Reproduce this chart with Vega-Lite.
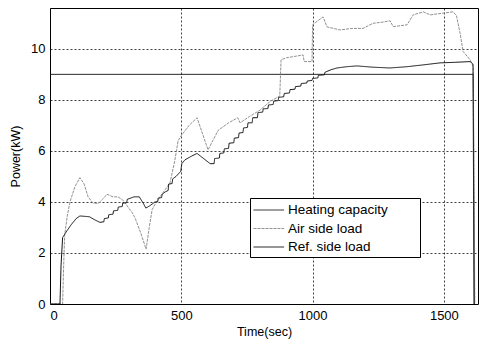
{
  "$schema": "https://vega.github.io/schema/vega-lite/v6.json",
  "width": 428,
  "height": 296,
  "autosize": {"type": "none"},
  "padding": {"left": 50, "top": 8, "right": 2, "bottom": 35},
  "config": {
    "font": "Liberation Sans",
    "view": {"stroke": "black", "strokeWidth": 1},
    "axis": {
      "gridColor": "black", "gridDash": [2, 2], "gridOpacity": 0.75, "gridWidth": 1,
      "ticks": false, "domain": false,
      "labelColor": "black", "labelFontSize": 13, "titleColor": "black",
      "titleFontSize": 12.5, "titleFontWeight": "normal"
    }
  },
  "data": {
    "values": [
      {"s": "Heating capacity", "t": 0, "p": 9.0},
      {"s": "Heating capacity", "t": 1612, "p": 9.0},
      {"s": "Heating capacity", "t": 1616, "p": 0},

      {"s": "Air side load", "t": 0, "p": 0},
      {"s": "Air side load", "t": 48, "p": 0},
      {"s": "Air side load", "t": 52, "p": 1.5},
      {"s": "Air side load", "t": 56, "p": 2.7},
      {"s": "Air side load", "t": 65, "p": 3.4},
      {"s": "Air side load", "t": 76, "p": 4.0},
      {"s": "Air side load", "t": 95, "p": 4.6},
      {"s": "Air side load", "t": 114, "p": 4.95},
      {"s": "Air side load", "t": 130, "p": 4.7},
      {"s": "Air side load", "t": 145, "p": 4.2},
      {"s": "Air side load", "t": 164, "p": 3.95},
      {"s": "Air side load", "t": 185, "p": 3.95},
      {"s": "Air side load", "t": 200, "p": 4.1},
      {"s": "Air side load", "t": 217, "p": 4.3},
      {"s": "Air side load", "t": 240, "p": 4.2},
      {"s": "Air side load", "t": 259, "p": 4.2},
      {"s": "Air side load", "t": 280, "p": 4.05},
      {"s": "Air side load", "t": 297, "p": 3.8},
      {"s": "Air side load", "t": 312, "p": 3.6},
      {"s": "Air side load", "t": 324, "p": 3.37},
      {"s": "Air side load", "t": 345, "p": 2.8},
      {"s": "Air side load", "t": 366, "p": 2.15},
      {"s": "Air side load", "t": 378, "p": 3.0},
      {"s": "Air side load", "t": 389, "p": 3.7},
      {"s": "Air side load", "t": 405, "p": 4.0},
      {"s": "Air side load", "t": 419, "p": 4.2},
      {"s": "Air side load", "t": 440, "p": 4.5},
      {"s": "Air side load", "t": 457, "p": 4.75},
      {"s": "Air side load", "t": 475, "p": 5.6},
      {"s": "Air side load", "t": 488, "p": 6.4},
      {"s": "Air side load", "t": 500, "p": 6.6},
      {"s": "Air side load", "t": 530, "p": 7.0},
      {"s": "Air side load", "t": 560, "p": 7.3},
      {"s": "Air side load", "t": 580, "p": 6.7},
      {"s": "Air side load", "t": 602, "p": 6.04},
      {"s": "Air side load", "t": 620, "p": 6.4},
      {"s": "Air side load", "t": 640, "p": 6.8},
      {"s": "Air side load", "t": 680, "p": 7.1},
      {"s": "Air side load", "t": 715, "p": 7.3},
      {"s": "Air side load", "t": 724, "p": 7.1},
      {"s": "Air side load", "t": 760, "p": 7.35},
      {"s": "Air side load", "t": 800, "p": 7.6},
      {"s": "Air side load", "t": 840, "p": 7.95},
      {"s": "Air side load", "t": 875, "p": 8.15},
      {"s": "Air side load", "t": 880, "p": 9.57},
      {"s": "Air side load", "t": 900, "p": 9.65},
      {"s": "Air side load", "t": 930, "p": 9.7},
      {"s": "Air side load", "t": 964, "p": 9.76},
      {"s": "Air side load", "t": 968, "p": 9.5},
      {"s": "Air side load", "t": 998, "p": 9.5},
      {"s": "Air side load", "t": 1000, "p": 10.94},
      {"s": "Air side load", "t": 1020, "p": 11.1},
      {"s": "Air side load", "t": 1040, "p": 11.25},
      {"s": "Air side load", "t": 1055, "p": 10.86},
      {"s": "Air side load", "t": 1080, "p": 10.8},
      {"s": "Air side load", "t": 1105, "p": 10.74},
      {"s": "Air side load", "t": 1150, "p": 10.8},
      {"s": "Air side load", "t": 1192, "p": 10.8},
      {"s": "Air side load", "t": 1230, "p": 11.0},
      {"s": "Air side load", "t": 1270, "p": 11.05},
      {"s": "Air side load", "t": 1295, "p": 11.1},
      {"s": "Air side load", "t": 1307, "p": 10.87},
      {"s": "Air side load", "t": 1360, "p": 10.94},
      {"s": "Air side load", "t": 1383, "p": 11.33},
      {"s": "Air side load", "t": 1421, "p": 11.45},
      {"s": "Air side load", "t": 1448, "p": 11.33},
      {"s": "Air side load", "t": 1497, "p": 11.4},
      {"s": "Air side load", "t": 1535, "p": 11.45},
      {"s": "Air side load", "t": 1548, "p": 11.3},
      {"s": "Air side load", "t": 1562, "p": 10.6},
      {"s": "Air side load", "t": 1573, "p": 9.9},
      {"s": "Air side load", "t": 1600, "p": 9.57},
      {"s": "Air side load", "t": 1612, "p": 9.3},
      {"s": "Air side load", "t": 1618, "p": 0},

      {"s": "Ref. side load", "t": 0, "p": 0},
      {"s": "Ref. side load", "t": 38, "p": 0},
      {"s": "Ref. side load", "t": 42, "p": 1.5},
      {"s": "Ref. side load", "t": 48, "p": 2.6},
      {"s": "Ref. side load", "t": 60, "p": 2.8},
      {"s": "Ref. side load", "t": 80, "p": 3.1},
      {"s": "Ref. side load", "t": 100, "p": 3.35},
      {"s": "Ref. side load", "t": 114, "p": 3.45},
      {"s": "Ref. side load", "t": 150, "p": 3.42},
      {"s": "Ref. side load", "t": 170, "p": 3.3},
      {"s": "Ref. side load", "t": 190, "p": 3.2},
      {"s": "Ref. side load", "t": 205, "p": 3.22},
      {"s": "Ref. side load", "t": 207, "p": 3.35},
      {"s": "Ref. side load", "t": 222, "p": 3.37},
      {"s": "Ref. side load", "t": 224, "p": 3.5},
      {"s": "Ref. side load", "t": 240, "p": 3.52},
      {"s": "Ref. side load", "t": 242, "p": 3.65},
      {"s": "Ref. side load", "t": 258, "p": 3.67},
      {"s": "Ref. side load", "t": 260, "p": 3.8},
      {"s": "Ref. side load", "t": 275, "p": 3.82},
      {"s": "Ref. side load", "t": 277, "p": 3.95},
      {"s": "Ref. side load", "t": 292, "p": 3.97},
      {"s": "Ref. side load", "t": 294, "p": 4.1},
      {"s": "Ref. side load", "t": 320, "p": 4.2},
      {"s": "Ref. side load", "t": 340, "p": 4.2},
      {"s": "Ref. side load", "t": 355, "p": 3.95},
      {"s": "Ref. side load", "t": 365, "p": 3.76},
      {"s": "Ref. side load", "t": 380, "p": 3.85},
      {"s": "Ref. side load", "t": 400, "p": 4.0},
      {"s": "Ref. side load", "t": 410, "p": 4.0},
      {"s": "Ref. side load", "t": 412, "p": 4.15},
      {"s": "Ref. side load", "t": 425, "p": 4.17},
      {"s": "Ref. side load", "t": 427, "p": 4.3},
      {"s": "Ref. side load", "t": 440, "p": 4.4},
      {"s": "Ref. side load", "t": 450, "p": 4.45},
      {"s": "Ref. side load", "t": 452, "p": 4.7},
      {"s": "Ref. side load", "t": 465, "p": 4.72},
      {"s": "Ref. side load", "t": 467, "p": 4.9},
      {"s": "Ref. side load", "t": 480, "p": 5.0},
      {"s": "Ref. side load", "t": 498, "p": 5.2},
      {"s": "Ref. side load", "t": 502, "p": 5.5},
      {"s": "Ref. side load", "t": 514, "p": 5.65},
      {"s": "Ref. side load", "t": 540, "p": 5.8},
      {"s": "Ref. side load", "t": 560, "p": 5.9},
      {"s": "Ref. side load", "t": 585, "p": 5.7},
      {"s": "Ref. side load", "t": 610, "p": 5.5},
      {"s": "Ref. side load", "t": 625, "p": 5.5},
      {"s": "Ref. side load", "t": 627, "p": 5.7},
      {"s": "Ref. side load", "t": 645, "p": 5.72},
      {"s": "Ref. side load", "t": 647, "p": 5.9},
      {"s": "Ref. side load", "t": 662, "p": 5.92},
      {"s": "Ref. side load", "t": 664, "p": 6.08},
      {"s": "Ref. side load", "t": 680, "p": 6.1},
      {"s": "Ref. side load", "t": 682, "p": 6.3},
      {"s": "Ref. side load", "t": 700, "p": 6.32},
      {"s": "Ref. side load", "t": 702, "p": 6.5},
      {"s": "Ref. side load", "t": 718, "p": 6.52},
      {"s": "Ref. side load", "t": 720, "p": 6.7},
      {"s": "Ref. side load", "t": 735, "p": 6.72},
      {"s": "Ref. side load", "t": 737, "p": 6.9},
      {"s": "Ref. side load", "t": 752, "p": 6.92},
      {"s": "Ref. side load", "t": 754, "p": 7.1},
      {"s": "Ref. side load", "t": 770, "p": 7.1},
      {"s": "Ref. side load", "t": 772, "p": 7.3},
      {"s": "Ref. side load", "t": 790, "p": 7.3},
      {"s": "Ref. side load", "t": 792, "p": 7.5},
      {"s": "Ref. side load", "t": 810, "p": 7.52},
      {"s": "Ref. side load", "t": 812, "p": 7.65},
      {"s": "Ref. side load", "t": 830, "p": 7.66},
      {"s": "Ref. side load", "t": 832, "p": 7.8},
      {"s": "Ref. side load", "t": 850, "p": 7.82},
      {"s": "Ref. side load", "t": 852, "p": 7.95},
      {"s": "Ref. side load", "t": 869, "p": 7.97},
      {"s": "Ref. side load", "t": 871, "p": 8.1},
      {"s": "Ref. side load", "t": 890, "p": 8.12},
      {"s": "Ref. side load", "t": 892, "p": 8.25},
      {"s": "Ref. side load", "t": 912, "p": 8.27},
      {"s": "Ref. side load", "t": 914, "p": 8.4},
      {"s": "Ref. side load", "t": 933, "p": 8.42},
      {"s": "Ref. side load", "t": 935, "p": 8.52},
      {"s": "Ref. side load", "t": 955, "p": 8.54},
      {"s": "Ref. side load", "t": 957, "p": 8.64},
      {"s": "Ref. side load", "t": 978, "p": 8.66},
      {"s": "Ref. side load", "t": 980, "p": 8.74},
      {"s": "Ref. side load", "t": 998, "p": 8.76},
      {"s": "Ref. side load", "t": 1000, "p": 8.84},
      {"s": "Ref. side load", "t": 1020, "p": 8.86},
      {"s": "Ref. side load", "t": 1022, "p": 8.96},
      {"s": "Ref. side load", "t": 1045, "p": 8.98},
      {"s": "Ref. side load", "t": 1047, "p": 9.08},
      {"s": "Ref. side load", "t": 1070, "p": 9.18},
      {"s": "Ref. side load", "t": 1093, "p": 9.25},
      {"s": "Ref. side load", "t": 1130, "p": 9.3},
      {"s": "Ref. side load", "t": 1169, "p": 9.33},
      {"s": "Ref. side load", "t": 1230, "p": 9.28},
      {"s": "Ref. side load", "t": 1295, "p": 9.25},
      {"s": "Ref. side load", "t": 1360, "p": 9.3},
      {"s": "Ref. side load", "t": 1421, "p": 9.37},
      {"s": "Ref. side load", "t": 1486, "p": 9.45},
      {"s": "Ref. side load", "t": 1540, "p": 9.47},
      {"s": "Ref. side load", "t": 1600, "p": 9.5},
      {"s": "Ref. side load", "t": 1611, "p": 9.4},
      {"s": "Ref. side load", "t": 1615, "p": 0}
    ]
  },
  "mark": {"type": "line", "clip": true},
  "encoding": {
    "x": {
      "field": "t", "type": "quantitative", "title": "Time(sec)",
      "scale": {"domain": [0, 1630], "nice": false},
      "axis": {"values": [0, 500, 1000, 1500], "format": "d", "labelPadding": 5, "titlePadding": 3}
    },
    "y": {
      "field": "p", "type": "quantitative", "title": "Power(kW)",
      "scale": {"domain": [0, 11.6], "nice": false},
      "axis": {"values": [0, 2, 4, 6, 8, 10], "labelPadding": 5, "titlePadding": 8}
    },
    "color": {
      "field": "s", "type": "nominal",
      "scale": {"domain": ["Heating capacity", "Air side load", "Ref. side load"], "range": ["#111111", "#8a8a8a", "#111111"]},
      "legend": {
        "orient": "none", "legendX": 200, "legendY": 190, "title": "__",
        "titleOrient": "right", "titleColor": "white", "titleFontSize": 10, "titlePadding": 17,
        "strokeColor": "black", "fillColor": "white", "padding": 3,
        "labelFontSize": 13.5, "labelColor": "black", "symbolType": "M-1,0H2.6",
        "symbolSize": 289, "symbolStrokeWidth": 1, "labelOffset": 17, "rowPadding": 2.5
      }
    },
    "strokeDash": {
      "field": "s", "type": "nominal",
      "scale": {"domain": ["Heating capacity", "Air side load", "Ref. side load"], "range": [[1, 0], [3, 1], [1, 0]]},
      "legend": {
        "orient": "none", "legendX": 200, "legendY": 190, "title": "__",
        "titleOrient": "right", "titleColor": "white", "titleFontSize": 10, "titlePadding": 17,
        "strokeColor": "black", "fillColor": "white", "padding": 3,
        "labelFontSize": 13.5, "labelColor": "black", "symbolType": "M-1,0H2.6",
        "symbolSize": 289, "symbolStrokeWidth": 1, "labelOffset": 17, "rowPadding": 2.5
      }
    },
    "strokeWidth": {
      "field": "s", "type": "nominal", "legend": null,
      "scale": {"domain": ["Heating capacity", "Air side load", "Ref. side load"], "range": [0.9, 1, 1.4]}
    },
    "order": {"field": "t", "type": "quantitative"}
  }
}
